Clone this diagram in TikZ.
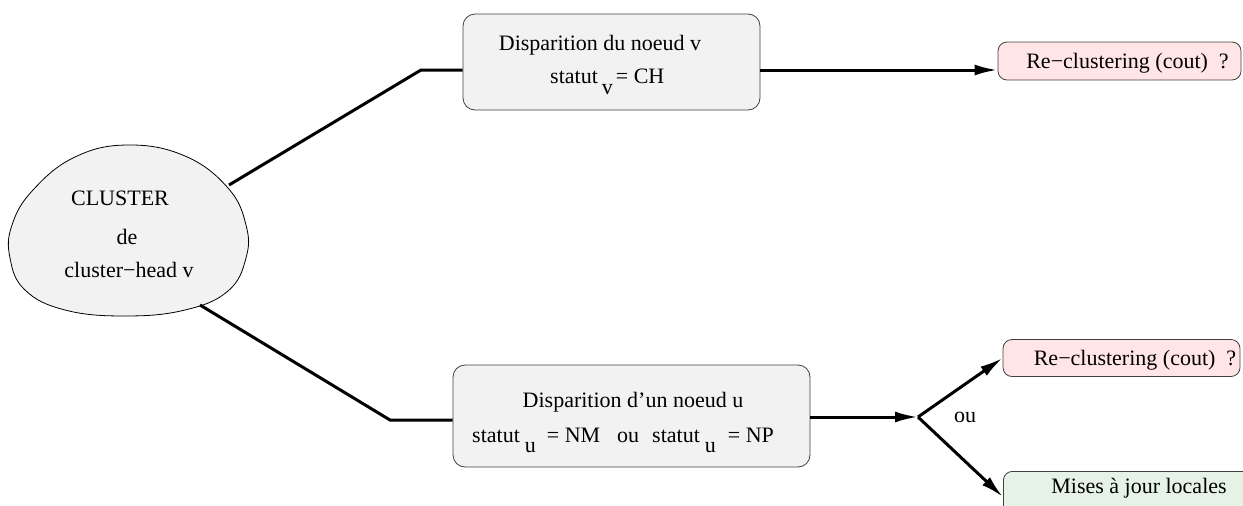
\documentclass[tikz,border=0pt]{standalone}
\usepackage{fontspec}
\setmainfont{Liberation Serif}
\usetikzlibrary{arrows.meta,calc}
\begin{document}
\begin{tikzpicture}[x=1pt,y=-1pt,
  conn/.style={line width=3pt},
  arr/.style={line width=3pt,-{Latex[length=23pt,width=11pt]}},
  boxgrey/.style={draw=black!75,line width=0.8pt,fill=black!5,rounded corners=12pt,inner sep=0pt},
  boxpink/.style={draw=black!75,line width=0.8pt,fill=red!10,rounded corners=9pt,inner sep=0pt},
  boxgreen/.style={draw=black!75,line width=0.8pt,fill=green!50!black!10,rounded corners=9pt,inner sep=0pt},
  txt/.style={inner sep=0pt,font=\fontsize{22}{26}\selectfont}]
\useasboundingbox (0,0) rectangle (1243,506);
% cloud
\draw[line width=0.8pt,fill=black!5] plot[smooth cycle,tension=0.7] coordinates {
 (128,145) (185,156) (228,188) (246,225) (246,258) (228,291) (185,310) (125,316)
 (65,310) (25,290) (10,258) (12,225) (33,190) (75,157)};
\node[txt] (t1) at (120,198) {CLUSTER};
\node[txt] (t2) at (127,237) {de};
\node[txt] (t3) at (129,270) {cluster−head v};
% boxes
\node[boxgrey,minimum width=297pt,minimum height=96pt] (tb) at (611.5,62) {};
\node[txt] (tb1) at (600,45) {Disparition du noeud v};
\node[txt,anchor=west] (tb2) at (550,82) {statut\hspace{4pt}\raisebox{-11pt}{v}\hspace{3pt}= CH};
\node[boxgrey,minimum width=357pt,minimum height=102pt] (bb) at (631.5,416) {};
\node[txt] (bb1) at (633,402) {Disparition d’un noeud u};
\node[txt,anchor=west] (bb2) at (472,440) {statut\hspace{5pt}\raisebox{-10pt}{u}\hspace{11pt}= NM\hspace{17pt}ou\hspace{13pt}statut\hspace{5pt}\raisebox{-10pt}{u}\hspace{12pt}= NP};
\node[boxpink,minimum width=243pt,minimum height=38pt] (p1) at (1119.5,61) {};
\node[txt] (p1t) at (1127.5,63) {Re−clustering (cout)\ \ ?};
\node[boxpink,minimum width=237pt,minimum height=37pt] (p2) at (1121.5,358) {};
\node[txt] (p2t) at (1135,360) {Re−clustering (cout)\ \ ?};
\node[boxgreen,minimum width=260pt,minimum height=70pt,anchor=north west] (g) at (1003,471) {};
\node[txt] (gt) at (1139,488) {Mises à jour locales};
\node[txt] (ou) at (965,417) {ou};
% connectors
\coordinate (c1) at (229,185);
\coordinate (k1) at (421,70);
\coordinate (c2) at (200,305);
\coordinate (k2) at (390,420);
\coordinate (j) at (918,417);
\draw[conn] (c1) -- (k1) -- (k1 -| tb.west);
\draw[arr] (tb.east |- k1) -- (p1.west |- k1);
\draw[conn] (c2) -- (k2) -- (k2 -| bb.west);
\draw[arr] (bb.east |- j) -- (j);
\draw[arr] (j) -- (p2.west);
\draw[arr] (j) -- ($(g.north west)+(0,26)$);
\end{tikzpicture}
\end{document}
